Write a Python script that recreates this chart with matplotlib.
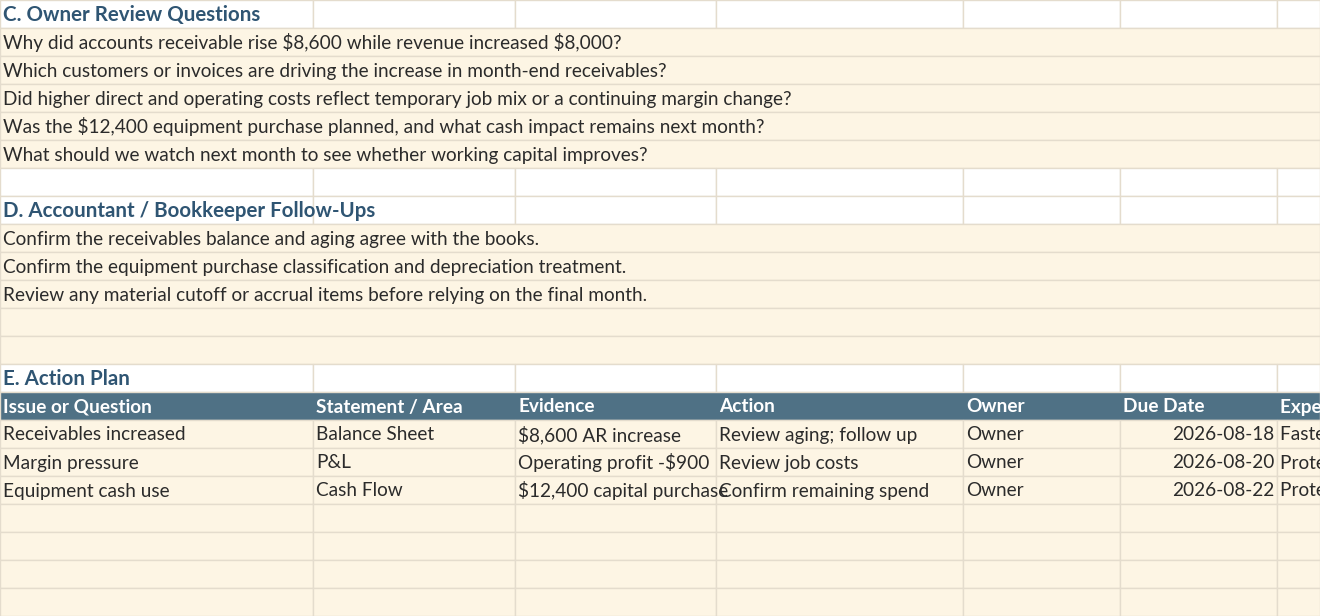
import matplotlib.pyplot as plt
from matplotlib.patches import Rectangle

plt.rcParams['font.family'] = ['Lato', 'DejaVu Sans']
plt.rcParams['text.parse_math'] = False

col_edges = [0, 313, 515, 716, 963, 1120, 1277, 1320]
row_h = 28

section_c = "C. Owner Review Questions"
owner_questions = [
    "Why did accounts receivable rise $8,600 while revenue increased $8,000?",
    "Which customers or invoices are driving the increase in month-end receivables?",
    "Did higher direct and operating costs reflect temporary job mix or a continuing margin change?",
    "Was the $12,400 equipment purchase planned, and what cash impact remains next month?",
    "What should we watch next month to see whether working capital improves?",
]
section_d = "D. Accountant / Bookkeeper Follow-Ups"
followups = [
    "Confirm the receivables balance and aging agree with the books.",
    "Confirm the equipment purchase classification and depreciation treatment.",
    "Review any material cutoff or accrual items before relying on the final month.",
]
section_e = "E. Action Plan"
plan_headers = ["Issue or Question", "Statement / Area", "Evidence", "Action",
                "Owner", "Due Date", "Expected Benefit"]
plan_rows = [
    ["Receivables increased", "Balance Sheet", "$8,600 AR increase",
     "Review aging; follow up", "Owner", "2026-08-18", "Faster collections"],
    ["Margin pressure", "P&L", "Operating profit -$900",
     "Review job costs", "Owner", "2026-08-20", "Protect margin"],
    ["Equipment cash use", "Cash Flow", "$12,400 capital purchase",
     "Confirm remaining spend", "Owner", "2026-08-22", "Protect cash"],
]

CREAM = '#fdf5e4'
GRID = '#e4dccd'
HEAD_BG = '#4f7185'
NAVY = '#2f5573'
TXT = '#2b2b2b'
FS = 13.7
FS_SEC = 14.8

fig = plt.figure(figsize=(13.2, 6.16), dpi=100)
ax = fig.add_axes([0, 0, 1, 1])
ax.set_xlim(0, 1320)
ax.set_ylim(616, 0)
ax.axis('off')


def grid_row(r, fill='white'):
    y = r * row_h
    for i in range(len(col_edges) - 1):
        ax.add_patch(Rectangle((col_edges[i], y), col_edges[i + 1] - col_edges[i], row_h,
                               facecolor=fill, edgecolor=GRID, lw=1))


def band_row(r, fill=CREAM):
    y = r * row_h
    ax.add_patch(Rectangle((0, y), 1320, row_h, facecolor=fill, edgecolor=GRID, lw=1))


def cell_text(r, c, s, color=TXT, bold=False, align='left'):
    x0, x1 = col_edges[c], col_edges[c + 1]
    y = r * row_h + row_h / 2 + 1
    clip = Rectangle((x0, r * row_h), x1 - x0, row_h, transform=ax.transData)
    x = x0 + 3 if align == 'left' else x1 - 3
    t = ax.text(x, y, s, ha=align, va='center', fontsize=FS, color=color,
                fontweight='bold' if bold else 'normal')
    t.set_clip_path(clip)


def long_text(r, s, color=TXT, bold=False, size=FS):
    ax.text(3, r * row_h + row_h / 2 + 1, s, ha='left', va='center', fontsize=size,
            color=color, fontweight='bold' if bold else 'normal')


# section C
grid_row(0)
long_text(0, section_c, NAVY, True, FS_SEC)
for i, q in enumerate(owner_questions):
    band_row(1 + i)
    long_text(1 + i, q)
grid_row(6)

# section D
grid_row(7)
long_text(7, section_d, NAVY, True, FS_SEC)
for i in range(5):
    band_row(8 + i)
for i, f in enumerate(followups):
    long_text(8 + i, f)

# section E
grid_row(13)
long_text(13, section_e, NAVY, True, FS_SEC)
band_row(14, HEAD_BG)
for c, h in enumerate(plan_headers):
    cell_text(14, c, h, 'white', True)
for r in range(15, 22):
    grid_row(r, CREAM)
for i, row in enumerate(plan_rows):
    for c, v in enumerate(row):
        cell_text(15 + i, c, v, align='right' if c == 5 else 'left')

fig.savefig('out.png', dpi=100)
